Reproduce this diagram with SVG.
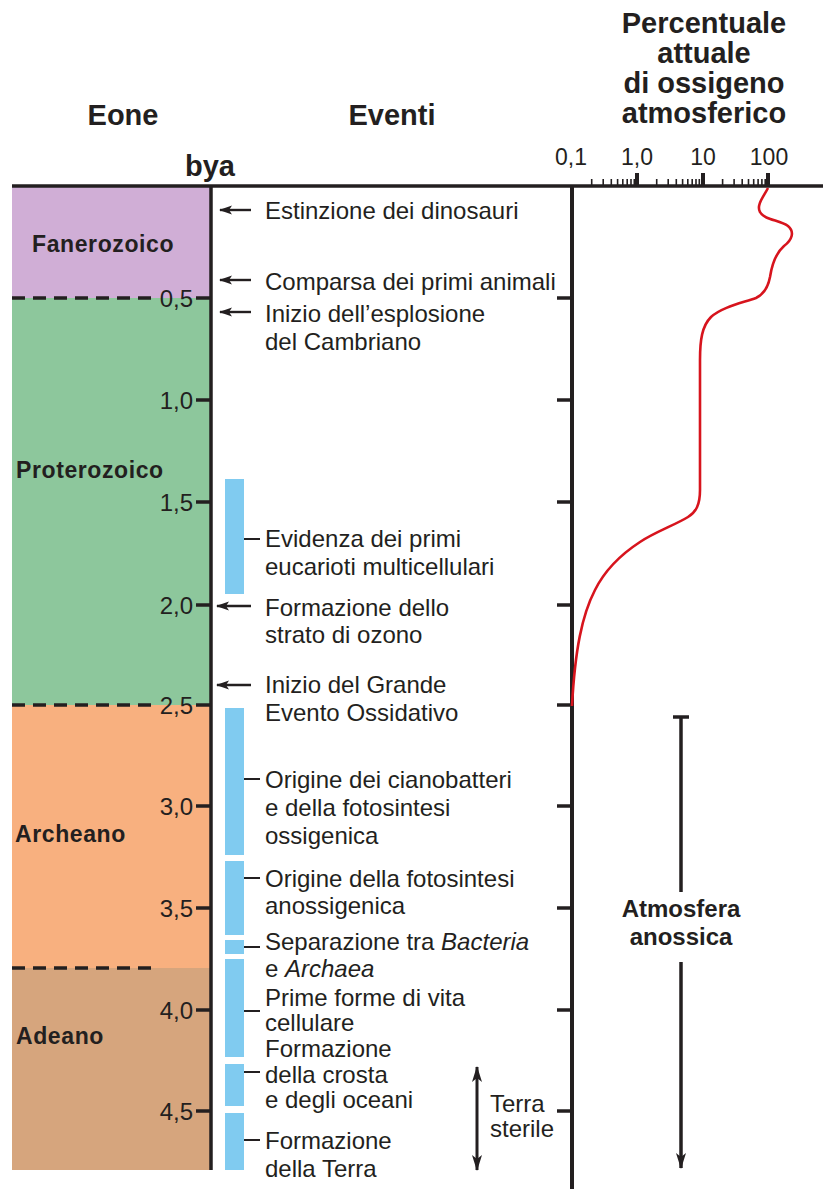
<svg xmlns="http://www.w3.org/2000/svg" width="823" height="1189" viewBox="0 0 823 1189">
<defs>
<style>
text{font-family:"Liberation Sans",Arial,sans-serif;fill:#231f20}
.h{font-size:29px;font-weight:bold}
.eon{font-size:23px;font-weight:bold;letter-spacing:0.6px}
.ev{font-size:24px}
.tk{font-size:24px;text-anchor:end}
.ax{font-size:23px;text-anchor:middle}
.ln{stroke:#231f20;fill:none}
.bar{fill:#80cbf0}
.dash{stroke:#231f20;stroke-width:3.5;stroke-dasharray:13 8}
</style>
<marker id="ah" viewBox="0 0 13 11" refX="12" refY="5.5" markerWidth="13" markerHeight="11" markerUnits="userSpaceOnUse" orient="auto">
<path d="M0,1 L13,5.5 L0,10 L3,5.5 z" fill="#231f20"/>
</marker>
<marker id="ahb" viewBox="0 0 16 12" refX="15" refY="6" markerWidth="16" markerHeight="12" markerUnits="userSpaceOnUse" orient="auto">
<path d="M0,1 L16,6 L0,11 L4,6 z" fill="#231f20"/>
</marker>
<marker id="ahs" viewBox="0 0 16 12" refX="15" refY="6" markerWidth="16" markerHeight="12" markerUnits="userSpaceOnUse" orient="auto-start-reverse">
<path d="M0,1 L16,6 L0,11 L4,6 z" fill="#231f20"/>
</marker>
</defs>
<rect width="823" height="1189" fill="#fff"/>

<g id="headers">
<text class="h" x="123" y="125" text-anchor="middle">Eone</text>
<text class="h" x="392" y="125" text-anchor="middle">Eventi</text>
<text class="h" x="210" y="176" text-anchor="middle">bya</text>
<text class="h" x="704" y="33" text-anchor="middle">Percentuale</text>
<text class="h" x="704" y="63" text-anchor="middle">attuale</text>
<text class="h" x="704" y="93" text-anchor="middle">di ossigeno</text>
<text class="h" x="704" y="123" text-anchor="middle">atmosferico</text>
</g>

<g id="eons">
<rect id="fanerozoico" x="12" y="187" width="199" height="111" fill="#d0aed6"/>
<rect id="proterozoico" x="12" y="298" width="199" height="407" fill="#8dc79c"/>
<rect id="archeano" x="12" y="705" width="199" height="263" fill="#f8b07f"/>
<rect id="adeano" x="12" y="968" width="199" height="202" fill="#d6a57d"/>
<line class="dash" x1="12" y1="298" x2="157" y2="298"/>
<line class="dash" x1="12" y1="705" x2="157" y2="705"/>
<line class="dash" x1="12" y1="968" x2="157" y2="968"/>
<text class="eon" x="32" y="252">Fanerozoico</text>
<text class="eon" x="16" y="478">Proterozoico</text>
<text class="eon" x="15" y="842">Archeano</text>
<text class="eon" x="16" y="1044">Adeano</text>
</g>

<g id="axes">
<line class="ln" x1="12" y1="186" x2="823" y2="186" stroke-width="3.5"/>
<line class="ln" x1="211" y1="186" x2="211" y2="1170" stroke-width="3.5"/>
<line class="ln" x1="572" y1="186" x2="572" y2="1189" stroke-width="4"/>
<g class="ln" stroke-width="3.5">
<line x1="196" y1="298" x2="211" y2="298"/>
<line x1="196" y1="400" x2="211" y2="400"/>
<line x1="196" y1="502" x2="211" y2="502"/>
<line x1="196" y1="605" x2="211" y2="605"/>
<line x1="196" y1="705" x2="211" y2="705"/>
<line x1="196" y1="806" x2="211" y2="806"/>
<line x1="196" y1="908" x2="211" y2="908"/>
<line x1="196" y1="1010" x2="211" y2="1010"/>
<line x1="196" y1="1111" x2="211" y2="1111"/>
<line x1="557" y1="298" x2="572" y2="298"/>
<line x1="557" y1="400" x2="572" y2="400"/>
<line x1="557" y1="502" x2="572" y2="502"/>
<line x1="557" y1="605" x2="572" y2="605"/>
<line x1="557" y1="705" x2="572" y2="705"/>
<line x1="557" y1="806" x2="572" y2="806"/>
<line x1="557" y1="908" x2="572" y2="908"/>
<line x1="557" y1="1010" x2="572" y2="1010"/>
<line x1="557" y1="1111" x2="572" y2="1111"/>
</g>
<text class="tk" x="193" y="307">0,5</text>
<text class="tk" x="193" y="409">1,0</text>
<text class="tk" x="193" y="511">1,5</text>
<text class="tk" x="193" y="614">2,0</text>
<text class="tk" x="193" y="714">2,5</text>
<text class="tk" x="193" y="815">3,0</text>
<text class="tk" x="193" y="917">3,5</text>
<text class="tk" x="193" y="1019">4,0</text>
<text class="tk" x="193" y="1120">4,5</text>
<g class="ln" stroke-width="4">
<line x1="637" y1="173" x2="637" y2="186"/>
<line x1="703" y1="173" x2="703" y2="186"/>
<line x1="768" y1="173" x2="768" y2="186"/>
</g>
<g class="ln" stroke-width="1.6">
<line x1="591.7" y1="179" x2="591.7" y2="186"/>
<line x1="603.2" y1="179" x2="603.2" y2="186"/>
<line x1="611.3" y1="179" x2="611.3" y2="186"/>
<line x1="617.6" y1="179" x2="617.6" y2="186"/>
<line x1="622.8" y1="179" x2="622.8" y2="186"/>
<line x1="627.2" y1="179" x2="627.2" y2="186"/>
<line x1="631.0" y1="179" x2="631.0" y2="186"/>
<line x1="634.3" y1="179" x2="634.3" y2="186"/>
<line x1="656.7" y1="179" x2="656.7" y2="186"/>
<line x1="668.2" y1="179" x2="668.2" y2="186"/>
<line x1="676.3" y1="179" x2="676.3" y2="186"/>
<line x1="682.6" y1="179" x2="682.6" y2="186"/>
<line x1="687.8" y1="179" x2="687.8" y2="186"/>
<line x1="692.2" y1="179" x2="692.2" y2="186"/>
<line x1="696.0" y1="179" x2="696.0" y2="186"/>
<line x1="699.3" y1="179" x2="699.3" y2="186"/>
<line x1="722.6" y1="179" x2="722.6" y2="186"/>
<line x1="734.1" y1="179" x2="734.1" y2="186"/>
<line x1="742.2" y1="179" x2="742.2" y2="186"/>
<line x1="748.5" y1="179" x2="748.5" y2="186"/>
<line x1="753.7" y1="179" x2="753.7" y2="186"/>
<line x1="758.1" y1="179" x2="758.1" y2="186"/>
<line x1="761.9" y1="179" x2="761.9" y2="186"/>
<line x1="765.2" y1="179" x2="765.2" y2="186"/>
</g>
<text class="ax" x="571" y="165">0,1</text>
<text class="ax" x="637" y="165">1,0</text>
<text class="ax" x="703" y="165">10</text>
<text class="ax" x="769" y="165">100</text>
</g>

<g id="oxygen-curve">
<path d="M768,188 C764,196 756,205 760,212 C764,220 780,220 788,226 C795,232 792,240 784,246 C776,253 772,264 770,277 C768,288 764,294 756,298 C742,303 722,307 711,317 C702,326 700,340 700,360 L700,490 C700,505 696,512 688,517 C675,525 655,532 640,542 C620,555 605,570 595,590 C582,615 575,650 572,706" fill="none" stroke="#d7141d" stroke-width="2.6"/>
</g>

<g id="bars">
<rect class="bar" x="225" y="479" width="19" height="115"/>
<rect class="bar" x="225" y="708" width="19" height="147"/>
<rect class="bar" x="225" y="861" width="19" height="74"/>
<rect class="bar" x="225" y="940" width="19" height="14"/>
<rect class="bar" x="225" y="959" width="19" height="98"/>
<rect class="bar" x="225" y="1064" width="19" height="42"/>
<rect class="bar" x="225" y="1113" width="19" height="57"/>
</g>

<g id="connectors" class="ln" stroke-width="2.4">
<line x1="251" y1="210" x2="220" y2="210" marker-end="url(#ah)"/>
<line x1="251" y1="280" x2="220" y2="280" marker-end="url(#ah)"/>
<line x1="251" y1="312" x2="220" y2="312" marker-end="url(#ah)"/>
<line x1="251" y1="606" x2="217" y2="606" marker-end="url(#ah)"/>
<line x1="251" y1="685" x2="217" y2="685" marker-end="url(#ah)"/>
<line x1="244" y1="539" x2="260" y2="539" stroke-width="2"/>
<line x1="244" y1="779" x2="260" y2="779" stroke-width="2"/>
<line x1="244" y1="878" x2="260" y2="878" stroke-width="2"/>
<line x1="244" y1="947" x2="260" y2="947" stroke-width="2"/>
<line x1="244" y1="1011" x2="260" y2="1011" stroke-width="2"/>
<line x1="244" y1="1072" x2="260" y2="1072" stroke-width="2"/>
<line x1="244" y1="1140" x2="260" y2="1140" stroke-width="2"/>
<line x1="681" y1="717" x2="681" y2="892" stroke-width="3.5"/>
<line x1="673" y1="717" x2="689" y2="717" stroke-width="3.5"/>
<line x1="681" y1="962" x2="681" y2="1168" stroke-width="3.5" marker-end="url(#ahb)"/>
<line x1="477" y1="1067" x2="477" y2="1170" stroke-width="3" marker-start="url(#ahs)" marker-end="url(#ahs)"/>
</g>

<g id="events" class="ev">
<text x="265" y="219">Estinzione dei dinosauri</text>
<text x="265" y="290">Comparsa dei primi animali</text>
<text x="265" y="322">Inizio dell’esplosione</text>
<text x="265" y="350">del Cambriano</text>
<text x="265" y="547">Evidenza dei primi</text>
<text x="265" y="575">eucarioti multicellulari</text>
<text x="265" y="616">Formazione dello</text>
<text x="265" y="643">strato di ozono</text>
<text x="265" y="693">Inizio del Grande</text>
<text x="265" y="721">Evento Ossidativo</text>
<text x="265" y="788">Origine dei cianobatteri</text>
<text x="265" y="816">e della fotosintesi</text>
<text x="265" y="844">ossigenica</text>
<text x="265" y="887">Origine della fotosintesi</text>
<text x="265" y="914">anossigenica</text>
<text x="265" y="950">Separazione tra <tspan font-style="italic">Bacteria</tspan></text>
<text x="265" y="977">e <tspan font-style="italic">Archaea</tspan></text>
<text x="265" y="1006">Prime forme di vita</text>
<text x="265" y="1031">cellulare</text>
<text x="265" y="1057">Formazione</text>
<text x="265" y="1083">della crosta</text>
<text x="265" y="1108">e degli oceani</text>
<text x="265" y="1149">Formazione</text>
<text x="265" y="1177">della Terra</text>
</g>

<g id="labels">
<text x="681" y="917" text-anchor="middle" style="font-size:24px;font-weight:bold">Atmosfera</text>
<text x="681" y="945" text-anchor="middle" style="font-size:24px;font-weight:bold">anossica</text>
<text x="490" y="1112" style="font-size:24px">Terra</text>
<text x="490" y="1137" style="font-size:24px">sterile</text>
</g>
</svg>
